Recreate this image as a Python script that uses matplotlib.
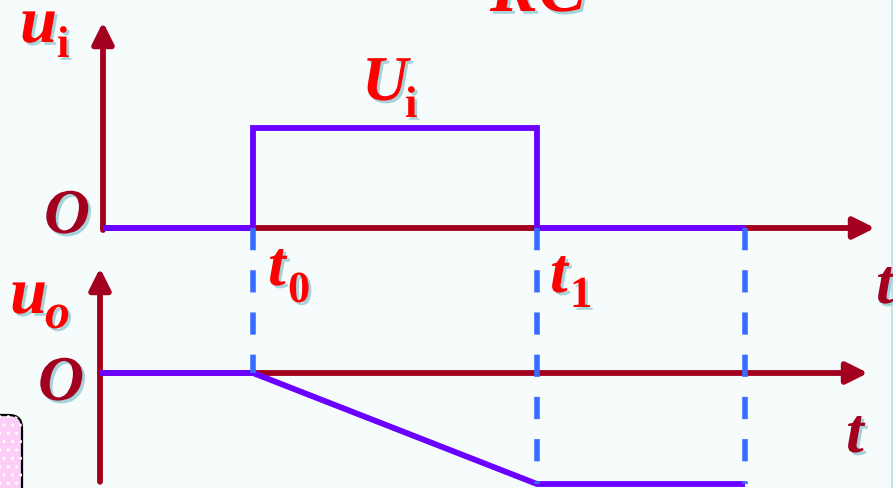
"""
RC 积分电路波形：输入矩形脉冲 u_i 与输出 u_o
"""
import matplotlib
matplotlib.use("Agg")
import matplotlib.pyplot as plt
import matplotlib.patheffects as pe
from matplotlib.patches import ConnectionPatch, FancyBboxPatch

# ---------------- 数据 ----------------
t0, t1, t2 = 1.50, 4.34, 6.42      # 时间点（任意单位）
Ui = 1.0                           # 输入脉冲幅值
Uo = 1.0                           # 输出在 t1 时达到的幅值（负向）

ui_t = [0, t0, t0, t1, t1, t2]
ui_v = [0, 0, Ui, Ui, 0, 0]
uo_t = [-0.03, t0, t1, t2]
uo_v = [0, 0, -Uo, -Uo]
dash_t = [t0, t1, t2]
dash_end = [0, -Uo, -Uo]

# ---------------- 样式 ----------------
W, H = 893, 488
BG = "#F6FBFC"
AXIS = "#A3001F"
PURPLE = "#6A00FF"
BLUE = "#3A6BFF"
RED = "#FF0000"
SHADOW = "#A6D3DA"
FONT = "Liberation Serif"

fig = plt.figure(figsize=(W / 100, H / 100), dpi=100, facecolor=BG)

# 背景层（像素坐标，用于文字和装饰）
ax_bg = fig.add_axes([0, 0, 1, 1])
ax_bg.set_xlim(0, W)
ax_bg.set_ylim(H, 0)
ax_bg.axis("off")

# 上图：t=0 在 x=103px，纵轴 0 在 y=228px，每单位 100px
ax_top = fig.add_axes([0, 0, 1, 1])
ax_top.set_xlim(-1.03, (W - 103) / 100)
ax_top.set_ylim(-(H - 228) / 100, 228 / 100)
ax_top.axis("off")
ax_top.patch.set_alpha(0)

# 下图：纵轴 0 在 y=373px，每单位 111px
ax_bot = fig.add_axes([0, 0, 1, 1])
ax_bot.set_xlim(-1.03, (W - 103) / 100)
ax_bot.set_ylim(-(H - 373) / 111, 373 / 111)
ax_bot.axis("off")
ax_bot.patch.set_alpha(0)

arrow_kw = dict(arrowstyle="-|>", color=AXIS, lw=4.2, mutation_scale=32,
                shrinkA=0, shrinkB=0)


def axis_arrow(ax, start, end):
    ax.annotate("", xy=end, xytext=start, xycoords="data",
                arrowprops=arrow_kw, zorder=2)


# 坐标轴
axis_arrow(ax_top, (0, -0.02), (0, 2.06))
axis_arrow(ax_top, (0, 0), (7.72, 0))
axis_arrow(ax_bot, (-0.03, -0.98), (-0.03, 0.946))
axis_arrow(ax_bot, (-0.03, 0), (7.65, 0))

# 波形
ax_top.plot(ui_t, ui_v, color=PURPLE, lw=4.2, solid_joinstyle="miter",
            solid_capstyle="butt", zorder=3)
ax_bot.plot(uo_t, uo_v, color=PURPLE, lw=4.2, solid_joinstyle="miter",
            solid_capstyle="butt", zorder=3)

# 虚线
for t, y_end in zip(dash_t, dash_end):
    cp = ConnectionPatch(xyA=(t, 0), coordsA=ax_top.transData,
                         xyB=(t, y_end), coordsB=ax_bot.transData,
                         color=BLUE, lw=4.0, linestyle=(0, (4.0, 3.6)),
                         capstyle="butt", zorder=5)
    fig.add_artist(cp)

# 左下角粉色框
box = FancyBboxPatch((-30, 415), 52, 100, boxstyle="round,pad=0,rounding_size=13",
                     facecolor="#FCCFF8", edgecolor="black", lw=1.6, zorder=1)
ax_bg.add_patch(box)
ax_bg.add_patch(FancyBboxPatch((-30, 415), 52, 100, boxstyle="round,pad=0,rounding_size=13",
                               facecolor="none", edgecolor="white", lw=0,
                               hatch="..", zorder=1))

ax_bg.axvline(892, color="#C5E3E8", lw=1.5)

# 文字
shadow = [pe.withSimplePatchShadow(offset=(2, -2), shadow_rgbFace=SHADOW, alpha=1)]


def label(x, y, s, size, color, italic=True):
    ax_bg.text(x, y, s, fontsize=size, color=color, family=FONT, weight="bold",
               style="italic" if italic else "normal", ha="left", va="baseline",
               path_effects=shadow, zorder=6)


label(490, 11, "RC", 52, RED)
label(20, 42, "u", 48, RED)
label(57, 57, "i", 32, RED, italic=False)
label(44, 233, "O", 46, AXIS)
label(362, 100, "U", 46, RED)
label(405, 117, "i", 32, RED, italic=False)
label(268, 285, "t", 46, RED)
label(288, 302, "0", 32, RED, italic=False)
label(550, 292, "t", 46, RED)
label(570, 307, "1", 32, RED, italic=False)
label(876, 303, "t", 46, AXIS)
label(10, 313, "u", 48, RED)
label(45, 328, "o", 36, RED)
label(38, 400, "O", 46, AXIS)
label(846, 452, "t", 46, AXIS)

fig.savefig("out.png", dpi=100, facecolor=BG)
